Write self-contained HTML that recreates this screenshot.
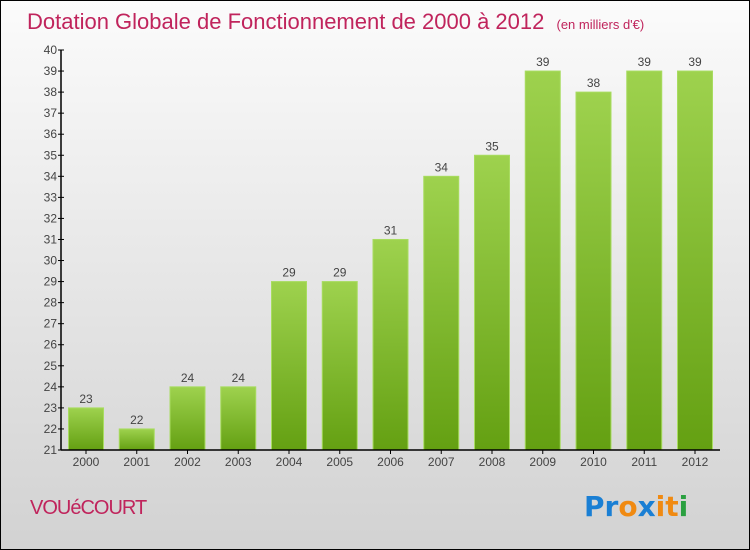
<!DOCTYPE html>
<html><head><meta charset="utf-8"><style>
html,body{margin:0;padding:0}
body{width:750px;height:550px;overflow:hidden;font-family:"Liberation Sans",sans-serif}
#wrap{position:relative;width:748px;height:548px;border:1px solid #000;background:linear-gradient(#fbfbfb,#d2d2d2)}
</style></head><body>
<div id="wrap">
<svg id="chart" width="748" height="548" viewBox="1 1 748 548" style="position:absolute;left:0;top:0">
<defs><linearGradient id="bg" x1="0" y1="0" x2="0" y2="1"><stop offset="0" stop-color="#9ed24e"/><stop offset="1" stop-color="#64a012"/></linearGradient></defs>
<text x="27" y="29" font-size="22" fill="#c0245c">Dotation Globale de Fonctionnement de 2000 à 2012 <tspan font-size="13" dx="6">(en milliers d'€)</tspan></text>
<g id="yaxis"></g>
<g id="bars"></g>
<g id="xaxis"></g>
<text x="30" y="514" font-size="20" fill="#c0245c" letter-spacing="-1">VOUéCOURT</text>
<g font-size="28" font-family="'DejaVu Sans',sans-serif" font-weight="bold">
<text x="584" y="516"><tspan fill="#1a7fd4">Pr</tspan><tspan fill="#f08a12">o</tspan><tspan fill="#1a7fd4">x</tspan><tspan fill="#f08a12">i</tspan><tspan fill="#f08a12">t</tspan><tspan fill="#2aa040">i</tspan></text>
</g>
</svg>
</div>
<script>
const years=["2000","2001","2002","2003","2004","2005","2006","2007","2008","2009","2010","2011","2012"];
const values=[23,22,24,24,29,29,31,34,35,39,38,39,39];
const yTicks=[21,22,23,24,25,26,27,28,29,30,31,32,33,34,35,36,37,38,39,40];
const NS="http://www.w3.org/2000/svg";
const x0=61,x1=720,yMin=21,yMax=40,yBot=450,yTop=50;
const y=v=>yBot-(v-yMin)/(yMax-yMin)*(yBot-yTop);
const step=50.75,bw=35;
const xc=i=>86+i*step;
function mk(t,a,p){const e=document.createElementNS(NS,t);for(const k in a)e.setAttribute(k,a[k]);p.appendChild(e);return e;}
const ya=document.getElementById('yaxis'),ba=document.getElementById('bars'),xa=document.getElementById('xaxis');
mk('line',{x1:x0,y1:yTop,x2:x0,y2:yBot,stroke:'#000','stroke-width':1.5},ya);
yTicks.forEach(v=>{
 const t=mk('line',{x1:x0-3,x2:x0+3,y1:y(v),y2:y(v),stroke:'#000'},ya);
 
 
 const l=mk('text',{x:x0-4,y:y(v)+4,'text-anchor':'end','font-size':12,fill:'#444'},ya);
 l.textContent=v;
 
 
});
values.forEach((v,i)=>{
 const r=mk('rect',{x:xc(i)-bw/2,y:y(v),width:bw,height:yBot-y(v),fill:'url(#bg)',stroke:'#a8dc60','stroke-width':1},ba);
 
 
 const l=mk('text',{x:xc(i),y:y(v)-5,'text-anchor':'middle','font-size':12,fill:'#444'},ba);
 l.textContent=v;
 
 
 const t=mk('line',{x1:xc(i),x2:xc(i),y1:yBot,y2:yBot+4,stroke:'#000'},xa);
 
 
 const xl=mk('text',{x:xc(i),y:yBot+16,'text-anchor':'middle','font-size':12,fill:'#444'},xa);
 xl.textContent=years[i];
 
 
});
mk('line',{x1:x0,y1:yBot,x2:x1,y2:yBot,stroke:'#000','stroke-width':1.5},xa);
</script>
</body></html>
